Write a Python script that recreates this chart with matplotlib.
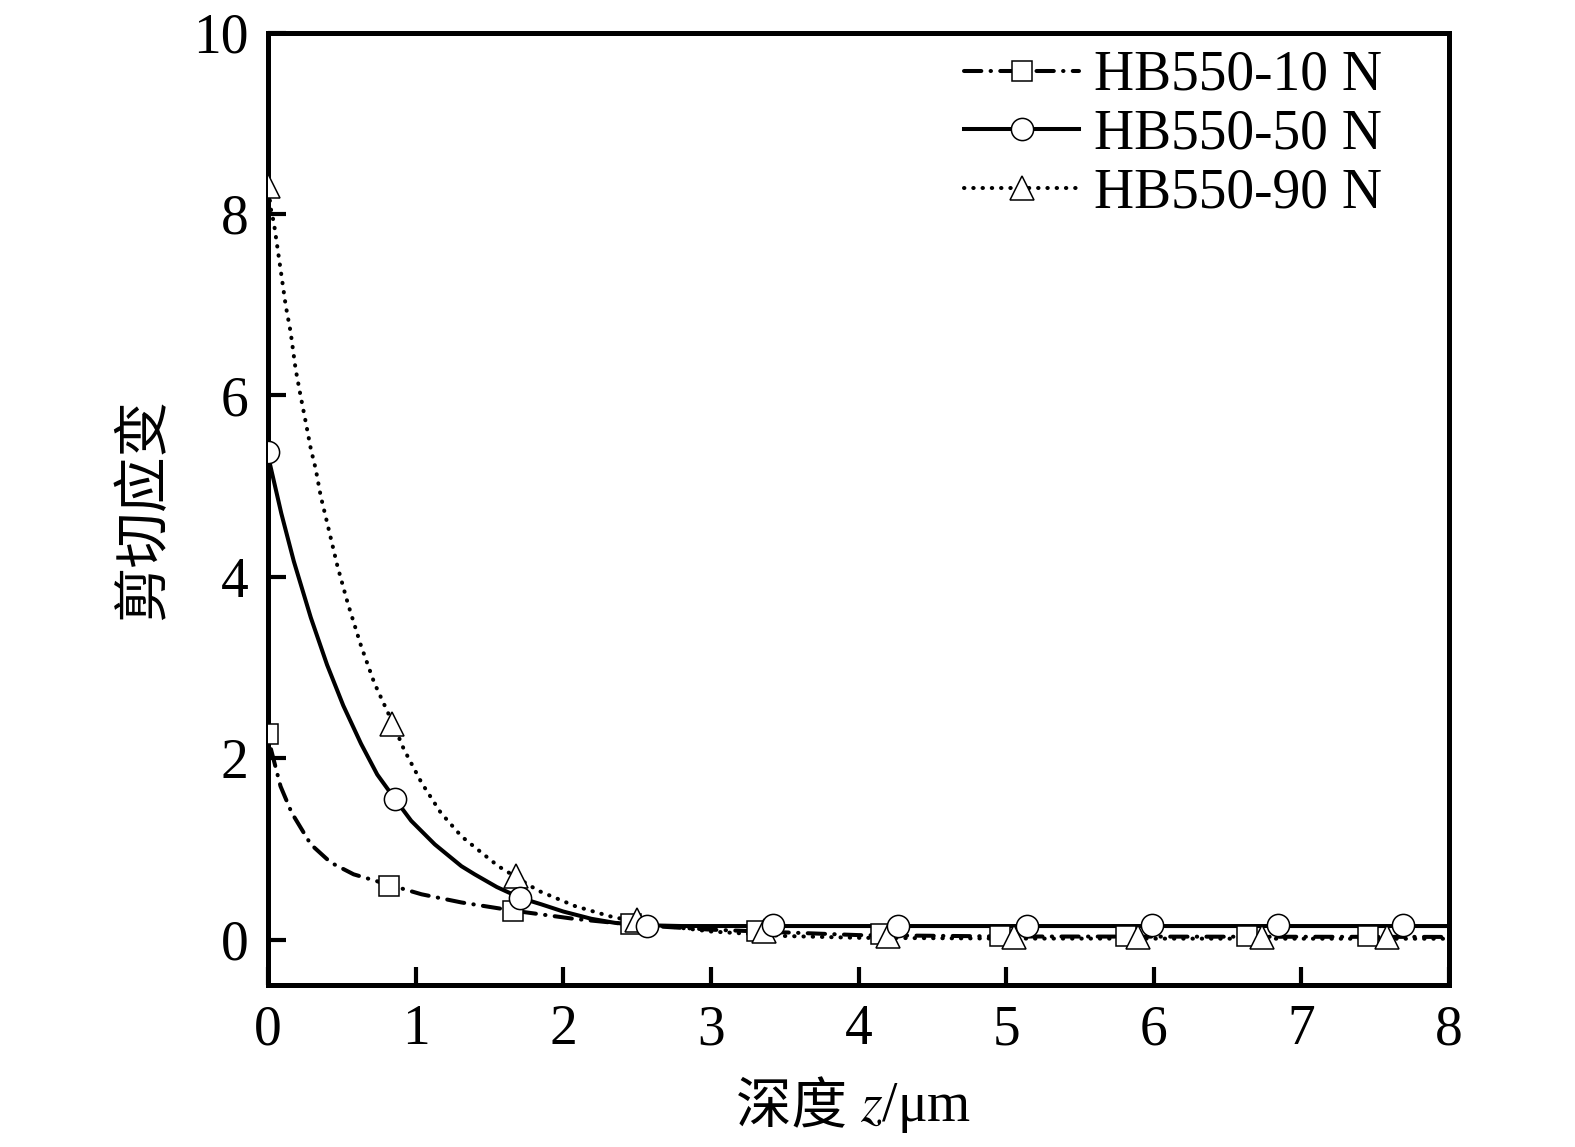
import matplotlib
matplotlib.use("Agg")
import matplotlib.pyplot as plt
from matplotlib.lines import Line2D

plt.rcParams['font.family'] = ['Liberation Serif', 'Noto Sans CJK SC']
plt.rcParams['mathtext.fontset'] = 'stix'

# ---- data ----
labels = ['HB550-10 N', 'HB550-50 N', 'HB550-90 N']

x_sq = [0.0, 0.82, 1.66, 2.46, 3.31, 4.15, 4.96, 5.81, 6.63, 7.45]
y_sq = [2.27, 0.59, 0.32, 0.17, 0.10, 0.06, 0.04, 0.04, 0.04, 0.04]

x_ci = [0.0, 0.86, 1.71, 2.57, 3.42, 4.27, 5.14, 5.99, 6.84, 7.69]
y_ci = [5.38, 1.555, 0.46, 0.15, 0.16, 0.15, 0.15, 0.16, 0.16, 0.16]

x_tr = [0.0, 0.84, 1.68, 2.50, 3.36, 4.20, 5.05, 5.89, 6.73, 7.58]
y_tr = [8.31, 2.38, 0.70, 0.22, 0.10, 0.04, 0.03, 0.03, 0.03, 0.03]

# fitted curves
fx10 = [0.02, 0.085, 0.16, 0.29, 0.425, 0.58, 0.83, 1.04, 1.31, 1.66, 2.07, 2.5, 3.0, 3.5, 4.0, 5.0, 8.0]
fy10 = [2.10, 1.69, 1.40, 1.05, 0.85, 0.72, 0.60, 0.50, 0.41, 0.32, 0.23, 0.16, 0.11, 0.08, 0.05, 0.035, 0.03]

fx50 = [0.015, 0.09, 0.175, 0.29, 0.40, 0.51, 0.63, 0.74, 0.86, 0.97, 1.13, 1.31, 1.40, 1.55,
        1.71, 1.85, 2.0, 2.19, 2.35, 2.53, 2.8, 8.0]
fy50 = [5.23, 4.70, 4.17, 3.55, 3.03, 2.58, 2.16, 1.82, 1.55, 1.31, 1.05, 0.81, 0.72, 0.58,
        0.46, 0.39, 0.31, 0.23, 0.185, 0.16, 0.15, 0.15]

fx90 = [0.005, 0.02, 0.04, 0.085, 0.12, 0.153, 0.187, 0.22, 0.255, 0.29, 0.323, 0.357, 0.40, 0.47,
        0.54, 0.63, 0.72, 0.85, 0.92, 1.04, 1.17, 1.31, 1.40, 1.56, 1.83, 2.08, 2.31, 2.54, 3.0, 3.5,
        4.0, 5.0, 8.0]
fy90 = [8.25, 8.05, 7.90, 7.39, 6.99, 6.70, 6.29, 6.00, 5.71, 5.41, 5.19, 4.89, 4.60, 4.12,
        3.71, 3.24, 2.83, 2.37, 2.10, 1.73, 1.40, 1.14, 1.02, 0.81, 0.54, 0.37, 0.26, 0.18, 0.09, 0.04,
        0.02, 0.012, 0.01]

xticks = [0, 1, 2, 3, 4, 5, 6, 7, 8]
yticks = [0, 2, 4, 6, 8, 10]

# ---- figure ----
W, H = 1575, 1147
fig = plt.figure(figsize=(W / 100, H / 100), dpi=100)
ax = fig.add_axes([268 / W, 1 - 985 / H, (1449 - 268) / W, (985 - 32.5) / H])

lw = 2.9
dashdot = (0, (4.3, 2.3, 0.1, 2.3))
dotted = (0, (0.1, 2.2))
mk = dict(mfc='white', mec='black', mew=1.1, linestyle='none')

ax.plot(fx10, fy10, color='black', lw=lw, linestyle=dashdot, dash_capstyle='round', zorder=2)
ax.plot(fx90, fy90, color='black', lw=lw, linestyle=dotted, dash_capstyle='round', zorder=2)
ax.plot(fx50, fy50, color='black', lw=lw, linestyle='-', zorder=2)

ax.plot(x_sq, y_sq, marker='s', ms=13.7, zorder=3, **mk)
ax.plot(x_tr, y_tr, marker='^', ms=17.5, zorder=4, **mk)
ax.plot(x_ci, y_ci, marker='o', ms=16, zorder=5, **mk)

ax.set_xlim(0, 8)
ax.set_ylim(-0.5, 10)
ax.set_xticks(xticks)
ax.set_yticks(yticks)
ax.tick_params(direction='in', length=13, width=3, labelsize=40, pad=14)
for s in ax.spines.values():
    s.set_linewidth(3.6)

# x label: Chinese part + italic z part
xl_y = 1 - 1108 / H
fig.text(860 / W, xl_y, '深度 ', fontsize=40, ha='right', va='center',
         family=['Noto Sans CJK SC', 'Liberation Serif'])
fig.text(860 / W, xl_y, '$z$/μm', fontsize=40, ha='left', va='center')
ax.set_ylabel('剪切应变', fontsize=40, labelpad=16)

handles = [
    Line2D([], [], color='black', lw=lw, linestyle=dashdot, dash_capstyle='round',
           marker='s', ms=13.7, mfc='white', mec='black', mew=1.1),
    Line2D([], [], color='black', lw=lw, linestyle='-',
           marker='o', ms=16, mfc='white', mec='black', mew=1.1),
    Line2D([], [], color='black', lw=lw, linestyle=dotted, dash_capstyle='round',
           marker='^', ms=17.5, mfc='white', mec='black', mew=1.1),
]
leg = ax.legend(handles, labels, loc='upper right', bbox_to_anchor=(1382 / W, 1 - 50 / H),
                bbox_transform=fig.transFigure, frameon=False, fontsize=40,
                handlelength=2.07, handletextpad=0.27, labelspacing=0.12,
                borderpad=0, borderaxespad=0)

fig.savefig('out.png', dpi=100)
